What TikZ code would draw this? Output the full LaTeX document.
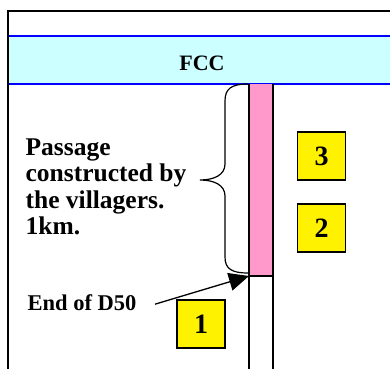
\documentclass[tikz,border=0pt]{standalone}
\usepackage{fontspec}
\setmainfont{Liberation Serif}
\usepackage{tikz}
\usetikzlibrary{arrows.meta}

\definecolor{fccband}{HTML}{CCFFFF}
\definecolor{passpink}{HTML}{FF99CC}

\tikzset{
  numbox/.style={draw,line width=1.3pt,fill=yellow,minimum size=48pt,inner sep=0pt,
    font=\fontsize{28}{28}\selectfont\bfseries},
  bigarrow/.style={-{Triangle[length=20pt,width=18pt]},line width=1.3pt}
}

\begin{document}
\begin{tikzpicture}[x=1pt,y=-1pt,line width=1.2pt]
  \useasboundingbox (0,0) rectangle (390,369);
  % FCC band
  \fill[fccband] (8,36) rectangle (390,84);
  \draw[blue,line width=1.6pt] (8,36) -- (390,36);
  \draw[blue,line width=1.6pt] (8,84) -- (390,84);
  \node[font=\fontsize{22}{22}\selectfont\bfseries] (fcc) at (202,63) {FCC};
  % frame
  \draw (390,11) -- (8,11) -- (8,369);
  % road and passage
  \fill[passpink] (249,84) rectangle (273,276);
  \draw (249,84) -- (249,369);
  \draw (273,84) -- (273,369);
  \draw (249,276) -- (273,276);
  \coordinate (d50end) at (249,276);
  % brace
  \draw (248,84) .. controls (231,84) and (225,89) .. (225,101) -- (225,164)
    .. controls (225,175) and (214,180) .. (200,180)
    .. controls (214,180) and (225,185) .. (225,196) -- (225,257)
    .. controls (225,269) and (232,273) .. (248,273);
  \node[anchor=north west,inner sep=0pt,align=left,
    font=\fontsize{25.5}{26.5}\selectfont\bfseries] (passage) at (25,138)
    {Passage\\constructed by\\the villagers.\\1km.};
  % end of D50
  \node[anchor=base west,inner sep=0pt,font=\fontsize{22.5}{22.5}\selectfont\bfseries]
    (d50) at (27,310) {End of D50};
  \draw[bigarrow] ([xshift=18pt,yshift=-2pt]d50.east) -- (d50end);
  % numbers
  \node[numbox] (box3) at (321.5,156) {3};
  \node[numbox] (box2) at (321.5,228) {2};
  \node[numbox] (box1) at (201,324) {1};
\end{tikzpicture}
\end{document}
